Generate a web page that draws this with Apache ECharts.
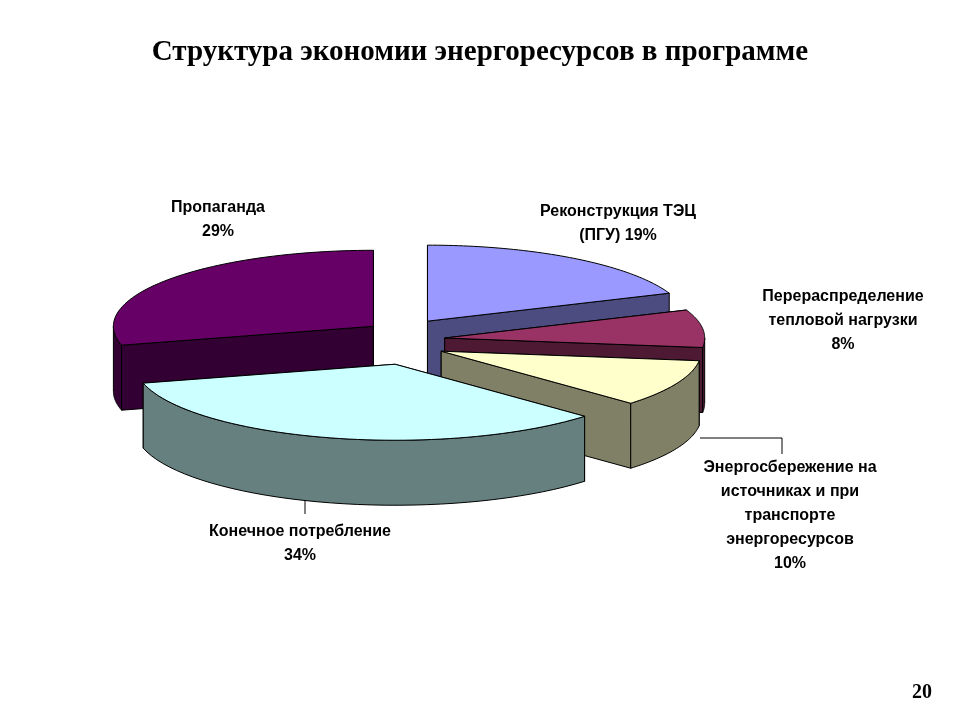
<!DOCTYPE html>
<html><head><meta charset="utf-8">
<script src="https://cdn.jsdelivr.net/npm/echarts@6/dist/echarts.min.js"></script>
<style>body{margin:0;background:#fff}#main{width:960px;height:720px}</style>
</head><body><div id="main"></div>
<script>
// slices clockwise from 12 o'clock
var names = ['Реконструкция ТЭЦ (ПГУ)', 'Перераспределение тепловой нагрузки', 'Энергосбережение на источниках и при транспорте энергоресурсов', 'Конечное потребление', 'Пропаганда'];
var values = [19, 8, 10, 34, 29];
var topColors = ['#9999FF', '#993366', '#FFFFCC', '#CCFFFF', '#660066'];
var sideColors = ['#4C4C80', '#4D1933', '#808066', '#668080', '#330033'];
var labelTexts = ['Реконструкция ТЭЦ\n(ПГУ) 19%', 'Перераспределение\nтепловой нагрузки\n8%', 'Энергосбережение на\nисточниках и при\nтранспорте\nэнергоресурсов\n10%', 'Конечное потребление\n34%', 'Пропаганда\n29%'];

var cx = 405, cy = 341, rx = 260, ry = 76, depth = 65, expl = 40;
var total = values.reduce(function(a, b){ return a + b; }, 0);
var slices = [], acc = 0;
values.forEach(function(v, i){
  var a0 = acc / total * Math.PI * 2; acc += v;
  var a1 = acc / total * Math.PI * 2;
  var m = (a0 + a1) / 2;
  slices.push({a0: a0, a1: a1, dx: expl * Math.sin(m), dy: -expl * Math.cos(m) * 0.6, m: m});
});
function pt(s, a, d){ return [cx + s.dx + rx * Math.sin(a), cy + s.dy - ry * Math.cos(a) + d]; }

function drawSlice(i){
  var s = slices[i];
  var rank = Math.round((1 - Math.cos(s.m)) * 100);
  var c = [cx + s.dx, cy + s.dy];
  var kids = [];
  [s.a0, s.a1].forEach(function(a){
    var p = pt(s, a, 0);
    kids.push({type: 'polygon', z2: rank * 10, shape: {points: [c, p, [p[0], p[1] + depth], [c[0], c[1] + depth]]},
      style: {fill: sideColors[i], stroke: '#000', lineWidth: 1}});
  });
  // front outer wall
  var lo = Math.max(s.a0, Math.PI / 2), hi = Math.min(s.a1, Math.PI * 1.5);
  if (hi > lo) {
    var top = [], bot = [];
    for (var k = 0; k <= 40; k++) {
      var a = lo + (hi - lo) * k / 40;
      top.push(pt(s, a, 0)); bot.unshift(pt(s, a, depth));
    }
    kids.push({type: 'polygon', z2: rank * 10 + 1, shape: {points: top.concat(bot)},
      style: {fill: sideColors[i], stroke: '#000', lineWidth: 1}});
  }
  var face = [c];
  for (var k = 0; k <= 60; k++) face.push(pt(s, s.a0 + (s.a1 - s.a0) * k / 60, 0));
  kids.push({type: 'polygon', z2: rank * 10 + 2, shape: {points: face},
    style: {fill: topColors[i], stroke: '#000', lineWidth: 1}});
  return {type: 'group', children: kids};
}

// draw back slices first
var order = values.map(function(v, i){ return i; }).sort(function(a, b){ return Math.cos(slices[b].m) - Math.cos(slices[a].m); });

var labelPos = [[618, 200], [843, 285], [790, 456], [300, 520], [218, 196]];
var graphics = [
  {type: 'text', left: 'center', top: 38, style: {text: 'Структура экономии энергоресурсов в программе', font: 'bold 29px "Liberation Serif", serif', fill: '#000'}},
  {type: 'text', left: 912, top: 683, style: {text: '20', font: 'bold 20px "Liberation Serif", serif', fill: '#000'}},
  {type: 'polyline', shape: {points: [[700, 438], [782, 438], [782, 454]]}, style: {stroke: '#000', lineWidth: 1, fill: null}},
  {type: 'polyline', shape: {points: [[345, 481], [305, 500], [305, 514]]}, style: {stroke: '#000', lineWidth: 1, fill: null}}
];
labelTexts.forEach(function(t, i){
  graphics.push({type: 'text', x: labelPos[i][0], y: labelPos[i][1], style: {text: t, align: 'center', font: 'bold 16px "Liberation Sans", Arial', lineHeight: 24, fill: '#000'}});
});

var myChart = echarts.init(document.getElementById('main'));
var option = {
  animation: false,
  graphic: graphics,
  series: [{
    type: 'custom',
    coordinateSystem: 'none',
    renderItem: function(params, api){ return drawSlice(order[params.dataIndex]); },
    data: order.map(function(i){ return values[i]; })
  }]
};
myChart.setOption(option);
</script></body></html>
